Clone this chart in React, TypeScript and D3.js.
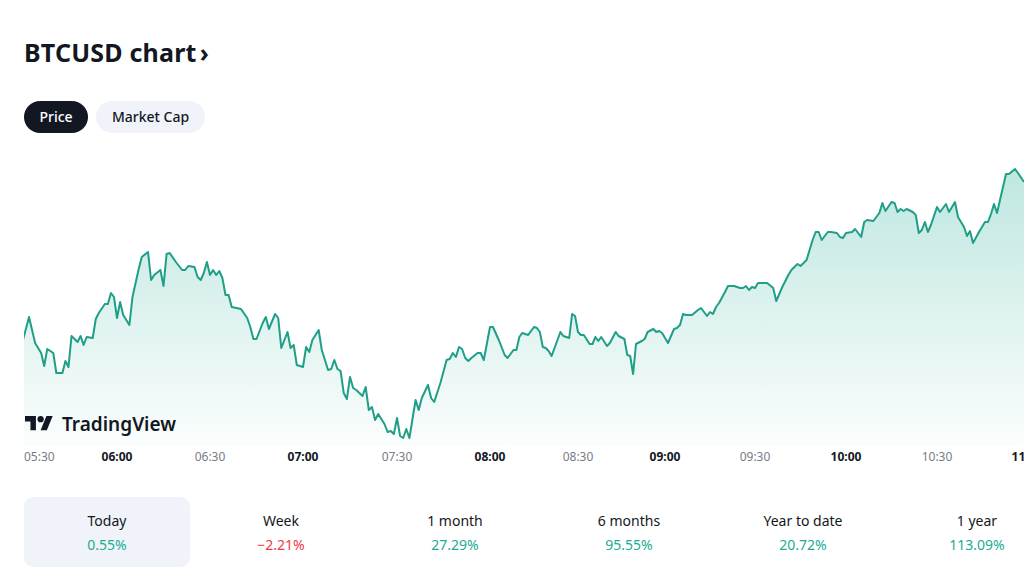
import React from "react";
import * as d3 from "d3";

const times = [
  "05:29","05:31","05:33","05:35","05:36","05:37","05:39","05:40","05:42","05:43","05:44","05:45","05:47","05:48","05:49","05:50","05:52","05:53","05:54","05:56","05:57","05:58","05:59",
  "06:00","06:01","06:02","06:04","06:05","06:07","06:08","06:10","06:11","06:12","06:14","06:15","06:16","06:17","06:19","06:21","06:22","06:23","06:25","06:26","06:27","06:28",
  "06:29","06:30","06:31","06:32","06:33","06:34","06:35","06:36","06:37","06:40","06:42","06:43","06:44","06:45","06:47","06:48","06:49","06:51","06:52","06:53","06:55","06:56","06:57",
  "06:58","07:00","07:01","07:02","07:03","07:05","07:06","07:08","07:09","07:10","07:11","07:12","07:13","07:14","07:15","07:16","07:17","07:19","07:20","07:21","07:22","07:23","07:24","07:26","07:27",
  "07:28","07:29","07:30","07:31","07:32","07:33","07:34","07:36","07:37","07:38","07:40","07:41","07:42","07:44","07:46","07:47","07:48","07:49","07:50","07:51","07:52","07:53","07:54","07:56",
  "07:57","07:58","08:00","08:01","08:03","08:05","08:06","08:08","08:09","08:10","08:11","08:13","08:14","08:15","08:16","08:17","08:18","08:19","08:20","08:21","08:24","08:25","08:27",
  "08:28","08:29","08:30","08:31","08:32","08:34","08:35","08:36","08:37","08:38","08:40","08:41","08:43","08:44","08:46","08:47","08:48","08:49","08:50","08:52","08:53","08:54","08:56","08:57","08:58",
  "08:59","09:01","09:03","09:04","09:05","09:06","09:07","09:09","09:11","09:12","09:14","09:15","09:16","09:17","09:18","09:20","09:21","09:22","09:23","09:25","09:26","09:27","09:28","09:29",
  "09:30","09:31","09:34","09:36","09:37","09:39","09:41","09:42","09:44","09:45","09:46","09:47","09:49","09:50","09:51","09:52","09:54","09:55","09:57","09:58","09:59",
  "10:00","10:02","10:03","10:05","10:06","10:07","10:09","10:11","10:12","10:13","10:15","10:16","10:17","10:18","10:19","10:20","10:22","10:23","10:24","10:25","10:26","10:27","10:28",
  "10:30","10:31","10:32","10:33","10:34","10:36","10:37","10:39","10:40","10:41","10:42","10:44","10:46","10:47","10:48","10:49","10:50","10:53","10:54","10:56","10:57","10:59",
];

const prices = [
  67495,67610,67480,67430,67365,67450,67430,67330,67330,67390,67360,67515,67485,67515,67470,67510,67505,67600,67630,67675,67675,67730,67710,
  67605,67685,67620,67570,67710,67850,67910,67935,67795,67820,67845,67765,67925,67930,67885,67845,67845,67865,67860,67810,67795,67830,
  67885,67820,67845,67820,67840,67805,67720,67720,67660,67650,67605,67560,67500,67500,67580,67610,67550,67625,67605,67455,67535,67455,67470,
  67370,67360,67460,67435,67495,67545,67445,67345,67350,67395,67350,67340,67230,67200,67310,67255,67245,67215,67260,67145,67160,67095,67125,67075,67035,
  67040,67025,67105,67015,67005,67050,67005,67195,67145,67205,67270,67205,67185,67280,67395,67400,67430,67410,67460,67450,67405,67390,67405,67430,
  67430,67395,67560,67560,67495,67420,67405,67445,67445,67510,67530,67520,67540,67560,67555,67535,67460,67455,67440,67415,67535,67515,67505,
  67625,67615,67535,67520,67520,67475,67475,67510,67490,67510,67465,67480,67535,67515,67500,67420,67415,67325,67475,67490,67500,67535,67550,67535,67540,
  67530,67480,67550,67555,67570,67625,67620,67620,67645,67655,67615,67635,67625,67660,67680,67735,67765,67765,67765,67755,67755,67765,67745,67760,
  67755,67780,67780,67755,67690,67760,67820,67845,67875,67865,67880,67895,67995,68035,68035,67995,68035,68035,68030,68010,68005,
  68030,68035,68050,68010,68085,68095,68090,68130,68180,68140,68185,68180,68135,68150,68140,68150,68135,68120,68030,68045,68085,68035,68070,
  68160,68135,68155,68175,68135,68185,68110,68060,68015,68040,67980,68035,68085,68085,68125,68175,68130,68325,68325,68350,68330,68285,
];

// Time axis labels (TradingView's axis is bar-indexed, so the half-hour marks are not evenly spaced)
const axisTimes = ["05:30","06:00","06:30","07:00","07:30","08:00","08:30","09:00","09:30","10:00","10:30","11:00"];
const axisPixels = [26, 117, 210, 303, 397, 490, 578, 665, 755, 846, 937, 1027];
const priceDomain = [67000, 68400];

const tabs = ["Price", "Market Cap"];
const periodLabels = ["Today", "Week", "1 month", "6 months", "Year to date", "1 year"];
const periodValues = ["0.55%", "\u22122.21%", "27.29%", "95.55%", "20.72%", "113.09%"];
const periodUp = [true, false, true, true, true, true];

const FONT = "'Noto Sans', 'Open Sans', sans-serif";
const GREEN = "#22ab94";
const LINE = "#1f9e88";
const RED = "#f23645";
const DARK = "#131722";

export default function App() {
  const parse = d3.timeParse("%H:%M");
  const data = times.map((t, i) => ({ t: parse(t) as Date, p: prices[i] }));

  const x = d3
    .scaleTime()
    .domain(axisTimes.map((t) => parse(t) as Date))
    .range(axisPixels);
  const y = d3.scaleLinear().domain(priceDomain).range([439, 159]);
  const baseY = 446;

  const line = d3.line<any>().x((d) => x(d.t)).y((d) => y(d.p));
  const area = d3.area<any>().x((d) => x(d.t)).y0(baseY).y1((d) => y(d.p));

  const ticks = x.ticks(d3.timeMinute.every(30) as any);
  const fmt = d3.timeFormat("%H:%M");

  const colX = d3.scaleLinear().domain([0, periodLabels.length - 1]).range([107, 977]);

  return (
    <svg
      width={1024}
      height={571}
      style={{ position: "fixed", left: 0, top: 0, background: "#fff", fontFamily: FONT }}
    >
      <defs>
        <linearGradient id="fillGrad" gradientUnits="userSpaceOnUse" x1={0} x2={0} y1={160} y2={baseY}>
          <stop offset="0%" stopColor={GREEN} stopOpacity={0.3} />
          <stop offset="100%" stopColor={GREEN} stopOpacity={0.02} />
        </linearGradient>
        <clipPath id="plotClip">
          <rect x={24} y={140} width={1000} height={baseY - 140} />
        </clipPath>
      </defs>
      <rect x={0} y={0} width={1024} height={571} fill="#fff" />

      {/* Title */}
      <text x={24} y={62} fontSize={25} fontWeight={700} fill={DARK} letterSpacing={0.2}>
        BTCUSD chart<tspan dx={3}>›</tspan>
      </text>

      {/* Tabs */}
      <rect x={24} y={101} width={64} height={32} rx={16} fill={DARK} />
      <text x={56} y={122} fontSize={14} fontWeight={500} fill="#fff" textAnchor="middle">{tabs[0]}</text>
      <rect x={96} y={101} width={109} height={32} rx={16} fill="#f0f3fa" />
      <text x={150.5} y={122} fontSize={14} fontWeight={500} fill={DARK} textAnchor="middle">{tabs[1]}</text>

      {/* Plot */}
      <g clipPath="url(#plotClip)">
        <path d={area(data) as string} fill="url(#fillGrad)" />
        <path d={line(data) as string} fill="none" stroke={LINE} strokeWidth={2} strokeLinejoin="round" />
      </g>

      {/* TradingView watermark */}
      <g transform="translate(25,413) scale(0.78)" fill={DARK}>
        <path d="M14 22H7V11H0V4h14v18zM28 22h-8l7.5-18h8L28 22z" />
        <circle cx={20} cy={8} r={4} />
      </g>
      <text x={62} y={431} fontSize={19} fontWeight={600} fill={DARK}>TradingView</text>

      {/* X axis labels */}
      {ticks.map((t, i) => {
        const isHour = t.getMinutes() === 0;
        const px = x(t);
        const clampStart = px - 16 < 24;
        return (
          <text
            key={i}
            x={clampStart ? 24 : px}
            y={461}
            fontSize={12}
            fontWeight={isHour ? 700 : 400}
            fill={isHour ? DARK : "#787b86"}
            textAnchor={clampStart ? "start" : "middle"}
          >
            {fmt(t)}
          </text>
        );
      })}

      {/* Period stats */}
      <rect x={24} y={497} width={166} height={70} rx={9} fill="#f0f3fa" />
      {periodLabels.map((lab, i) => (
        <g key={lab}>
          <text x={colX(i)} y={526} fontSize={14} fill={DARK} textAnchor="middle">{lab}</text>
          <text x={colX(i)} y={550} fontSize={14} fill={periodUp[i] ? GREEN : RED} textAnchor="middle">
            {periodValues[i]}
          </text>
        </g>
      ))}
    </svg>
  );
}
